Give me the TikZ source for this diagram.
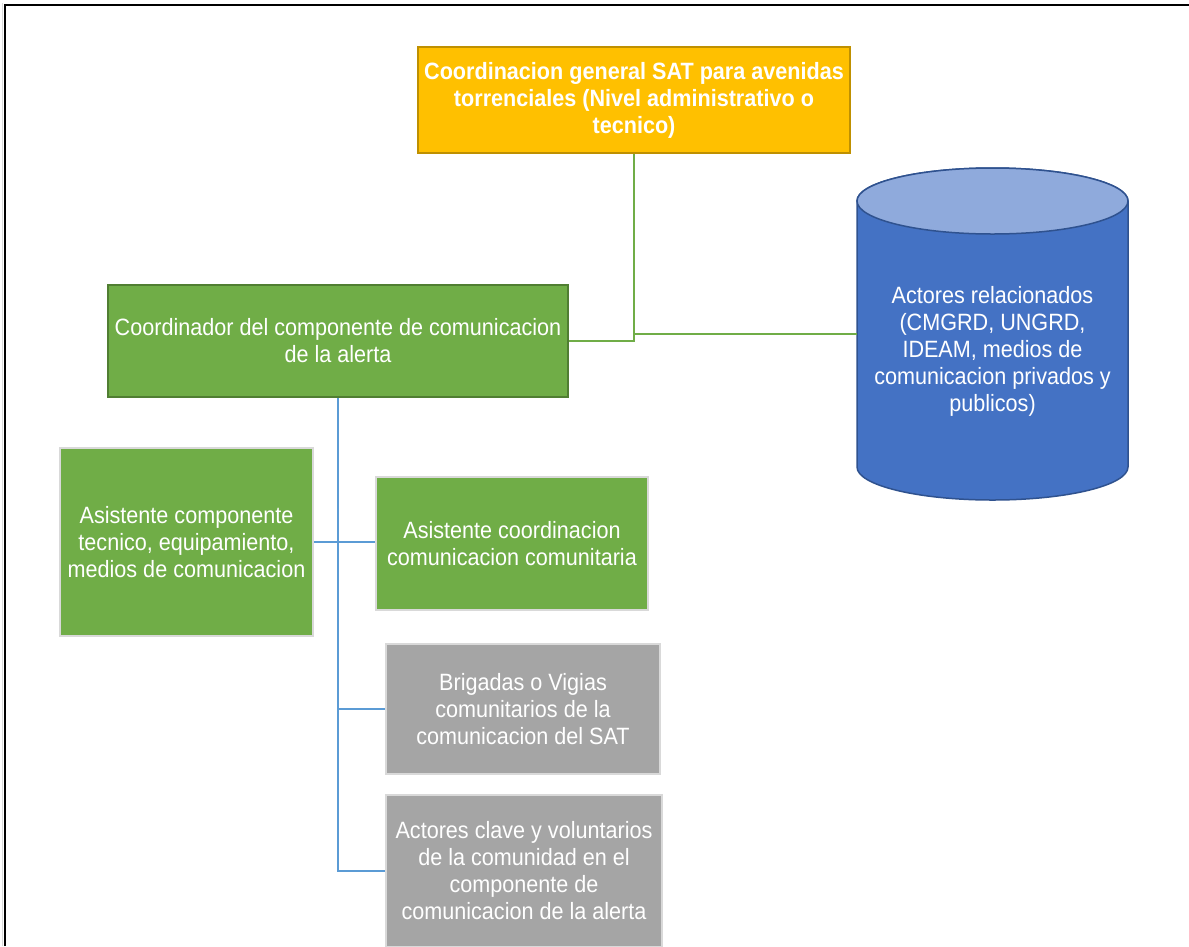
\documentclass[tikz,border=0pt]{standalone}
\usepackage{fontspec}
\setmainfont{Liberation Sans}[FakeStretch=0.915]
\definecolor{orng}{HTML}{FFC000}
\definecolor{orngb}{HTML}{BF9000}
\definecolor{grn}{HTML}{70AD47}
\definecolor{grnb}{HTML}{507E32}
\definecolor{cylbody}{HTML}{4472C4}
\definecolor{cyltop}{HTML}{8FAADC}
\definecolor{cylb}{HTML}{2F528F}
\definecolor{gry}{HTML}{A5A5A5}
\definecolor{lgry}{HTML}{D9D9D9}
\definecolor{bln}{HTML}{5B9BD5}
\tikzset{
  txt/.style={text=white, align=center, font=\fontsize{23.6}{27}\selectfont, inner sep=0pt},
  orbox/.style={txt, fill=orng, draw=orngb, line width=2pt, font=\fontsize{23.6}{27}\selectfont\bfseries},
  gbox/.style={txt, fill=grn, draw=grnb, line width=2pt},
  gbox2/.style={txt, fill=grn, draw=lgry, line width=2pt},
  graybox/.style={txt, fill=gry, draw=lgry, line width=1.5pt},
  gline/.style={draw=grn, line width=2.5pt},
  bline/.style={draw=bln, line width=2.5pt},
}
\begin{document}
\begin{tikzpicture}[x=1pt,y=1pt]
\useasboundingbox (0,0) rectangle (1189,-946);
% frame
\draw[lgry, line width=1.5pt] (2.5,-3) -- (2.5,-946);
\draw[black, line width=2pt] (5,-946) -- (5,-5) -- (1189,-5);

% nodes
\node[orbox, minimum width=432pt, minimum height=106pt] (top) at (634,-100)
  {Coordinacion general SAT para avenidas\\torrenciales (Nivel administrativo o\\tecnico)};
\node[gbox, minimum width=460pt, minimum height=112pt] (coord) at (338,-341)
  {Coordinador del componente de comunicacion\\de la alerta};

% cylinder
\coordinate (cylL) at (857,-334);
\draw[cylb, line width=1.5pt, fill=cylbody] (857,-201) -- (857,-467)
  arc[start angle=180, end angle=360, x radius=135.5pt, y radius=33pt]
  -- (1128,-201)
  arc[start angle=0, end angle=180, x radius=135.5pt, y radius=33pt] -- cycle;
\draw[cylb, line width=1.5pt, fill=cyltop] (992.5,-201) ellipse [x radius=135.5pt, y radius=33pt];
\node[txt] (actrel) at (992.5,-351)
  {Actores relacionados\\(CMGRD, UNGRD,\\IDEAM, medios de\\comunicacion privados y\\publicos)};

\node[gbox2, minimum width=253pt, minimum height=188pt] (asL) at (186.5,-542)
  {Asistente componente\\tecnico, equipamiento,\\medios de comunicacion};
\node[gbox2, minimum width=272pt, minimum height=133pt] (asR) at (512,-543.5)
  {Asistente coordinacion\\comunicacion comunitaria};
\node[graybox, minimum width=274pt, minimum height=130pt] (brig) at (523,-709)
  {Brigadas o Vigias\\comunitarios de la\\comunicacion del SAT};
\node[graybox, minimum width=276pt, minimum height=152pt] (clave) at (524,-871)
  {Actores clave y voluntarios\\de la comunidad en el\\componente de\\comunicacion de la alerta};

% green connectors
\draw[gline] (top.south) |- (coord.east);
\draw[gline] (top.south |- cylL) -- (cylL);

% blue connectors
\draw[bline] (coord.south) |- (clave.west);
\draw[bline] (coord.south |- brig.west) -- (brig.west);
\draw[bline] (asL.east) -- (asL.east -| asR.west);
\end{tikzpicture}
\end{document}
